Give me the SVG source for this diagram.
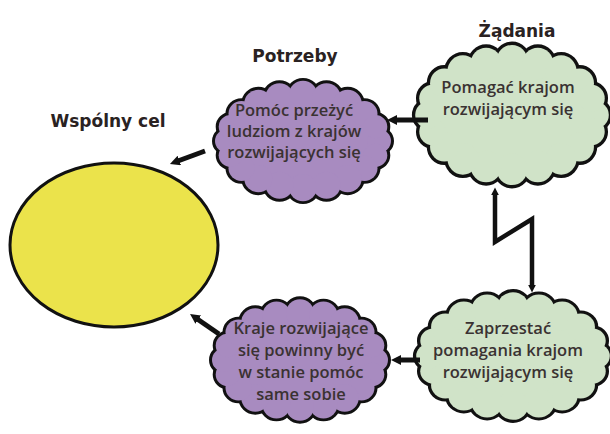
<svg xmlns="http://www.w3.org/2000/svg" xmlns:xlink="http://www.w3.org/1999/xlink" width="610" height="434" viewBox="0 0 610 434">
<style>
.title{font-family:"DejaVu Sans","Liberation Sans",sans-serif;font-weight:bold;font-size:17px;fill:#2a2222;text-anchor:middle}
.lbl{font-family:"Open Sans","Liberation Sans",sans-serif;font-weight:600;font-size:16.5px;fill:#3a3232;text-anchor:middle}
.outline{fill:#111;stroke:#111;stroke-width:6}
.purple{fill:#a88bc0}
.green{fill:#d0e3c8}
.conn{fill:none;stroke:#111;stroke-width:5}
.bolt{fill:none;stroke:#111;stroke-width:4.5;stroke-linejoin:miter}
</style>
<defs>
<g id="cloud">
<ellipse cx="0" cy="0" rx="76" ry="48"/>
<circle cx="76" cy="0" r="12"/>
<circle cx="72.3" cy="14.8" r="12"/>
<circle cx="61.5" cy="28.2" r="13"/>
<circle cx="44.7" cy="38.8" r="14"/>
<circle cx="23.5" cy="45.6" r="14"/>
<circle cx="0" cy="48" r="14"/>
<circle cx="-23.5" cy="45.6" r="14"/>
<circle cx="-44.7" cy="38.8" r="14"/>
<circle cx="-61.5" cy="28.2" r="13"/>
<circle cx="-72.3" cy="14.8" r="12"/>
<circle cx="-76" cy="0" r="12"/>
<circle cx="-72.3" cy="-14.8" r="12"/>
<circle cx="-61.5" cy="-28.2" r="13"/>
<circle cx="-44.7" cy="-38.8" r="14"/>
<circle cx="-23.5" cy="-45.6" r="14"/>
<circle cx="0" cy="-48" r="14"/>
<circle cx="23.5" cy="-45.6" r="14"/>
<circle cx="44.7" cy="-38.8" r="14"/>
<circle cx="61.5" cy="-28.2" r="13"/>
<circle cx="72.3" cy="-14.8" r="12"/>
</g>
<marker id="head" viewBox="0 0 10 10" refX="3" refY="5" markerWidth="10" markerHeight="10" markerUnits="userSpaceOnUse" orient="auto-start-reverse">
<path d="M0,0 L10,5 L0,10 z" fill="#111"/>
</marker>
<marker id="headS" viewBox="0 0 10 10" refX="3" refY="5" markerWidth="8" markerHeight="8" markerUnits="userSpaceOnUse" orient="auto-start-reverse">
<path d="M0,0 L10,5 L0,10 z" fill="#111"/>
</marker>
</defs>
<rect width="610" height="434" fill="#fff"/>

<g id="goal">
<ellipse cx="114" cy="245" rx="104" ry="82" fill="#ebe34b" stroke="#111" stroke-width="3"/>
<text class="title" x="108" y="127">Wspólny cel</text>
</g>

<g id="need">
<text class="title" x="295" y="62">Potrzeby</text>
<g transform="translate(303,141) scale(1,0.97)">
<use xlink:href="#cloud" class="outline"/>
<use xlink:href="#cloud" class="purple"/>
</g>
<text class="lbl" x="294" y="116">Pomóc przeżyć</text>
<text class="lbl" x="294" y="137">ludziom z krajów</text>
<text class="lbl" x="294" y="158">rozwijających się</text>
</g>

<g id="demand">
<text class="title" x="517" y="37">Żądania</text>
<g transform="translate(512,115) scale(1.1,1.13)">
<use xlink:href="#cloud" class="outline"/>
<use xlink:href="#cloud" class="green"/>
</g>
<text class="lbl" x="508" y="93">Pomagać krajom</text>
<text class="lbl" x="508" y="115">rozwijającym się</text>
</g>

<g id="demand2">
<g transform="translate(513,356) scale(1.1,1.03)">
<use xlink:href="#cloud" class="outline"/>
<use xlink:href="#cloud" class="green"/>
</g>
<text class="lbl" x="508" y="334">Zaprzestać</text>
<text class="lbl" x="508" y="356">pomagania krajom</text>
<text class="lbl" x="508" y="378">rozwijającym się</text>
</g>

<g id="need2">
<g transform="translate(300,360) scale(1,0.98)">
<use xlink:href="#cloud" class="outline"/>
<use xlink:href="#cloud" class="purple"/>
</g>
<text class="lbl" x="301" y="334">Kraje rozwijające</text>
<text class="lbl" x="301" y="356">się powinny być</text>
<text class="lbl" x="301" y="378">w stanie pomóc</text>
<text class="lbl" x="301" y="400">same sobie</text>
</g>

<g id="connectors">
<line class="conn" x1="205" y1="151" x2="176.5" y2="161.5" marker-end="url(#head)"/>
<line class="conn" x1="428" y1="120" x2="394" y2="120" marker-end="url(#head)"/>
<line class="conn" x1="219" y1="334" x2="195.8" y2="318" marker-end="url(#head)"/>
<line class="conn" x1="420" y1="360" x2="398" y2="360" marker-end="url(#head)"/>
<polyline class="bolt" points="495,193 495,242 532,219 532,287" marker-start="url(#headS)" marker-end="url(#headS)"/>
</g>
</svg>
